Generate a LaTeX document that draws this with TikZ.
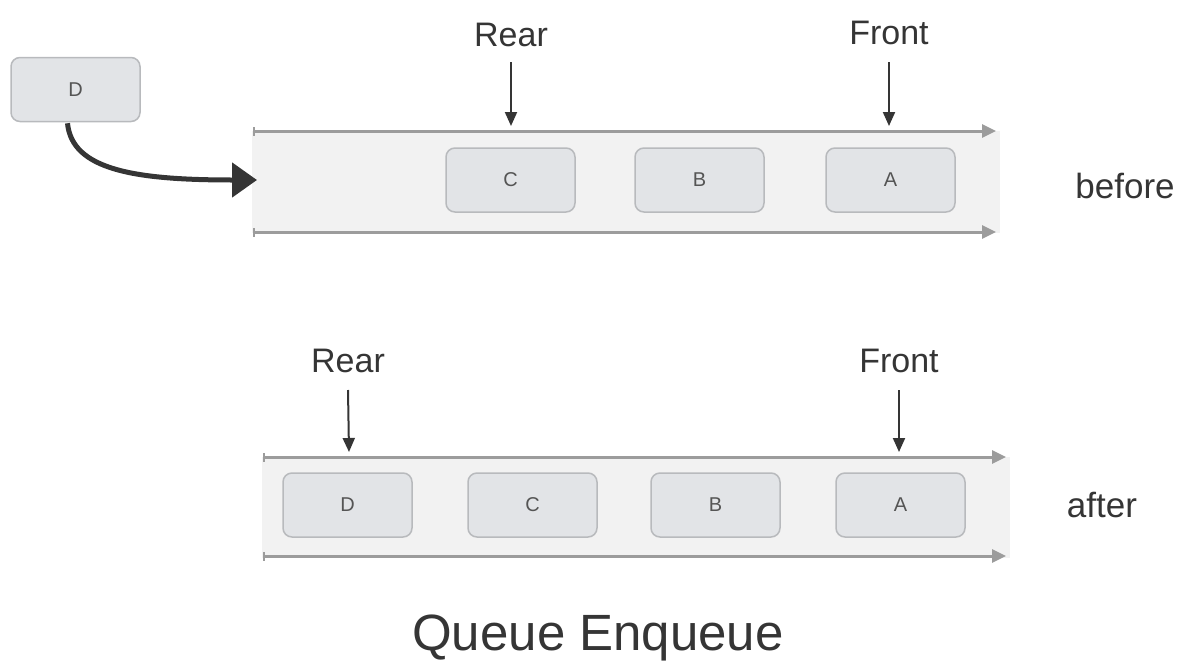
\documentclass[tikz,border=0pt]{standalone}
\usepackage{fontspec}
\setmainfont{Liberation Sans}
\usetikzlibrary{arrows.meta}
\definecolor{boxfill}{HTML}{E2E4E7}
\definecolor{boxline}{HTML}{B8BABD}
\definecolor{bandfill}{HTML}{F2F2F2}
\definecolor{rail}{HTML}{9C9C9C}
\definecolor{ink}{HTML}{353535}
\definecolor{letter}{HTML}{555555}
\begin{document}
\begin{tikzpicture}[x=1pt,y=-1pt,
  elem/.style={draw=boxline, line width=1.5pt, fill=boxfill, rounded corners=9pt,
    minimum width=129pt, minimum height=64pt, inner sep=0pt,
    font=\fontsize{20}{20}\selectfont, text=letter},
  ptr/.style={font=\fontsize{34}{34}\selectfont, text=ink, inner sep=0pt, anchor=base},
  state/.style={font=\fontsize{35}{35}\selectfont, text=ink, inner sep=0pt, anchor=base},
  band/.style={fill=bandfill, draw=none},
  railline/.style={draw=rail, line width=3pt, {Bar[width=9pt,line width=1.5pt]}-{Triangle[length=14pt,width=13pt]}},
  ptrarrow/.style={draw=ink, line width=2pt, -{Triangle[length=14pt,width=12pt]}},
  bigarrow/.style={draw=ink, line width=5pt, -{Triangle[length=25pt,width=34pt]}}
]
\useasboundingbox (0,0) rectangle (1184,662);

% ---------- before ----------
\fill[band] (252,131) rectangle (1000,233);
\coordinate (t1l) at (253,131);
\coordinate (t1r) at (996,131);
\coordinate (b1l) at (253,232);
\coordinate (b1r) at (996,232);
\draw[railline] (t1l) -- (t1r);
\draw[railline] (b1l) -- (b1r);

\node[elem] (dnew) at (75.5,89.5) {D};
\node[elem] (c1) at (510.5,180) {C};
\node[elem] (b1) at (699.5,180) {B};
\node[elem] (a1) at (890.5,180) {A};

\node[ptr] (rear1) at (511,46) {Rear};
\node[ptr] (front1) at (889,44) {Front};
\coordinate (rt1) at (511,126);
\coordinate (ft1) at (889,126);
\draw[ptrarrow] (rear1.base) ++(0,16) -- (rt1);
\draw[ptrarrow] (front1.base) ++(0,18) -- (ft1);

\coordinate (entry) at (257,180);
\draw[bigarrow] ([xshift=-8pt,yshift=-1pt]dnew.south) .. controls (72,170) and (135,180) .. (entry);

\node[state] (before) at (1125,198) {before};

% ---------- after ----------
\fill[band] (262,457) rectangle (1010,558);
\coordinate (t2l) at (263,457);
\coordinate (t2r) at (1006,457);
\coordinate (b2l) at (263,556);
\coordinate (b2r) at (1006,556);
\draw[railline] (t2l) -- (t2r);
\draw[railline] (b2l) -- (b2r);

\node[elem] (d2) at (347.5,505) {D};
\node[elem] (c2) at (532.5,505) {C};
\node[elem] (b2) at (715.5,505) {B};
\node[elem] (a2) at (900.5,505) {A};

\node[ptr] (rear2) at (348,372) {Rear};
\node[ptr] (front2) at (899,372) {Front};
\coordinate (rt2) at (349,452);
\coordinate (ft2) at (899,452);
\draw[ptrarrow] (rear2.base) ++(0,18) -- (rt2);
\draw[ptrarrow] (front2.base) ++(0,18) -- (ft2);

\node[state] (after) at (1102,517) {after};

% ---------- title ----------
\node[font=\fontsize{51}{51}\selectfont, text=ink, inner sep=0pt, anchor=base] (title) at (598,650) {Queue Enqueue};
\end{tikzpicture}
\end{document}
